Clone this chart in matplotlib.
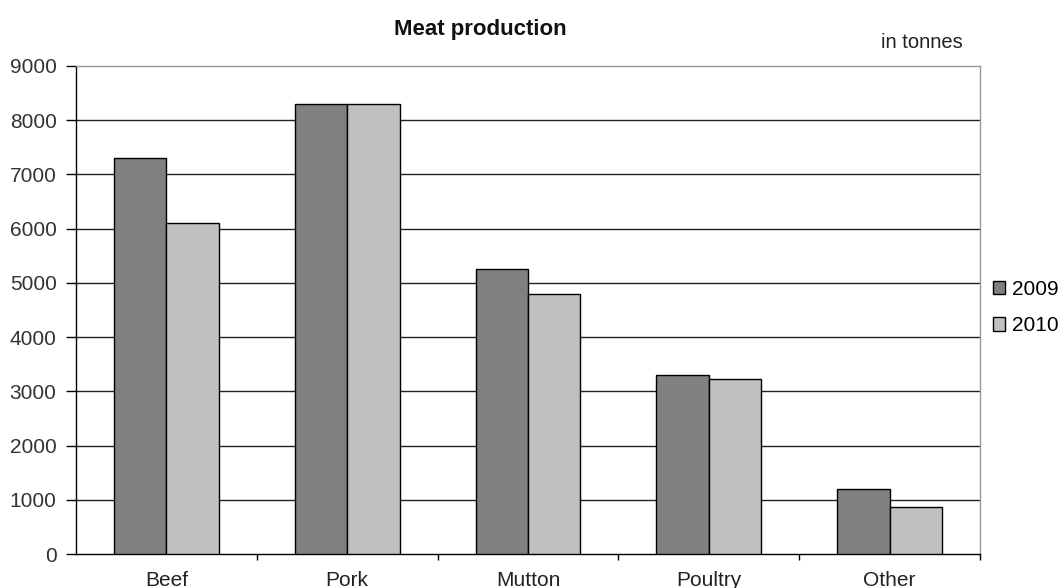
import matplotlib.pyplot as plt
import numpy as np

# Meat production per category, in tonnes
categories = ['Beef', 'Pork', 'Mutton', 'Poultry', 'Other']
years = ['2009', '2010']
prod_2009 = [7300, 8300, 5250, 3300, 1200]
prod_2010 = [6100, 8300, 4800, 3230, 860]

colors = ['#808080', '#c0c0c0']

plt.rcParams['font.family'] = ['Liberation Sans', 'DejaVu Sans']

fig = plt.figure(figsize=(10.62, 5.88), dpi=100)
ax = fig.add_axes([0.0716, 0.0578, 0.8512, 0.830])

x = np.arange(len(categories))
w = 0.29
ax.bar(x - w / 2, prod_2009, w, color=colors[0], edgecolor='black', linewidth=1, zorder=3, label=years[0])
ax.bar(x + w / 2, prod_2010, w, color=colors[1], edgecolor='black', linewidth=1, zorder=3, label=years[1])

ax.set_xlim(-0.5, len(categories) - 0.5)
ax.set_ylim(0, 9000)
ax.set_yticks(np.arange(0, 9001, 1000))
ax.set_xticks(x)
ax.set_xticklabels(categories)
ax.set_xticks(np.arange(0.5, len(categories), 1), minor=True)

# horizontal grid lines between the frame lines
for y in range(1000, 9000, 1000):
    ax.axhline(y, color='#222222', linewidth=1, zorder=1)

ax.tick_params(axis='y', length=7, width=1, pad=7, labelsize=15, colors='black', labelcolor='#333333')
ax.tick_params(axis='x', which='major', length=0, pad=12, labelsize=15, labelcolor='#222222')
ax.tick_params(axis='x', which='minor', length=4, width=1, color='black')

ax.spines['left'].set_color('black')
ax.spines['bottom'].set_color('black')
ax.spines['top'].set_color('#999999')
ax.spines['right'].set_color('#999999')
for s in ax.spines.values():
    s.set_linewidth(1)

fig.text(0.452, 0.949, 'Meat production', ha='center', va='center',
         fontsize=16, fontweight='bold', color='#111111')
fig.text(0.907, 0.928, 'in tonnes', ha='right', va='center',
         fontsize=14.5, color='#222222')

ax.legend(loc='center left', bbox_to_anchor=(1.0, 0.505), frameon=False,
          fontsize=15, handlelength=0.6, handleheight=0.6, handletextpad=0.35,
          labelspacing=0.85, borderaxespad=0.4, borderpad=0.2)

fig.savefig('out.png', dpi=100)
plt.close(fig)
